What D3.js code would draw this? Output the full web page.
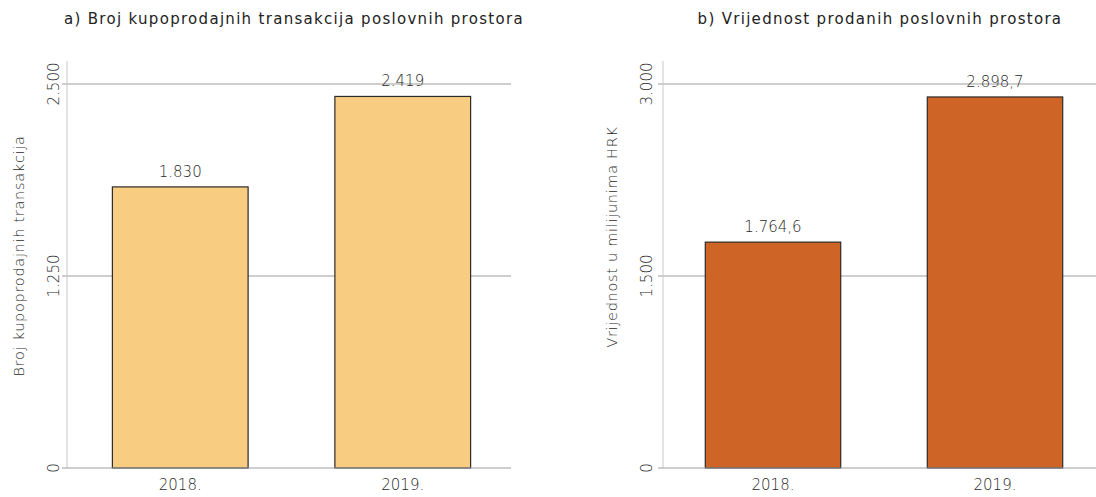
<!DOCTYPE html>
<html>
<head>
<meta charset="utf-8">
<script src="https://cdn.jsdelivr.net/npm/d3@7"></script>
<style>
  html, body { margin: 0; padding: 0; background: #fff; }
  svg { display: block; font-family: "DejaVu Sans", sans-serif; }
</style>
</head>
<body>
<svg id="chart" width="1096" height="497"></svg>
<script>
// Years on the x axis
const years = ["2018.", "2019."];

// Panel a: number of sale transactions of business premises
const transactions = [1830, 2419];
const transactionTicks = [0, 1250, 2500];
const transactionLabels = ["1.830", "2.419"];

// Panel b: value of sold business premises (million HRK)
const valuesHRK = [1764.6, 2898.7];
const valueTicks = [0, 1500, 3000];
const valueLabels = ["1.764,6", "2.898,7"];

const svg = d3.select("#chart");
const fmtTick = v => d3.format(",")(v).replace(/,/g, ".");

const panels = [
  {
    title: "a) Broj kupoprodajnih transakcija poslovnih prostora",
    yTitle: "Broj kupoprodajnih transakcija",
    values: transactions, ticks: transactionTicks, labels: transactionLabels,
    max: 2500, axisX: 67, x0: 69, x1: 514, gridEnd: 511, color: "#F8CD82",
    titleX: 294, yTitleX: 24, yTitleY: 256, tickX: 59
  },
  {
    title: "b) Vrijednost prodanih poslovnih prostora",
    yTitle: "Vrijednost u milijunima HRK",
    values: valuesHRK, ticks: valueTicks, labels: valueLabels,
    max: 3000, axisX: 663, x0: 662, x1: 1106, gridEnd: 1096, color: "#CF6427",
    titleX: 880, yTitleX: 617, yTitleY: 237, tickX: 652
  }
];

const yBottom = 468, yTop = 84;
const lightText = "#2a2a2a";

panels.forEach(p => {
  const g = svg.append("g");
  const x = d3.scaleBand().domain(years).range([p.x0, p.x1]).paddingInner(0.39).paddingOuter(0.195);
  const y = d3.scaleLinear().domain([0, p.max]).range([yBottom, yTop]);

  // title
  g.append("text")
    .attr("x", p.titleX).attr("y", 24)
    .attr("text-anchor", "middle")
    .attr("font-size", 15).attr("font-weight", 400).attr("fill", "#222")
    .attr("letter-spacing", 1.3)
    .text(p.title);

  // gridlines and tick marks
  g.selectAll(".grid").data(p.ticks.filter(t => t > 0)).join("line")
    .attr("x1", p.axisX - 5).attr("x2", p.gridEnd)
    .attr("y1", d => y(d)).attr("y2", d => y(d))
    .attr("stroke", "#9d9d9d").attr("stroke-width", 1);

  // vertical axis line
  g.append("line")
    .attr("x1", p.axisX).attr("x2", p.axisX)
    .attr("y1", 61).attr("y2", yBottom)
    .attr("stroke", "#c8c8c8").attr("stroke-width", 1);

  // tick labels (rotated)
  g.selectAll(".tl").data(p.ticks).join("text")
    .attr("transform", d => `translate(${p.tickX},${y(d)}) rotate(-90)`)
    .attr("text-anchor", "middle")
    .attr("font-size", 15).attr("font-weight", 200).attr("fill", lightText)
    .text(d => fmtTick(d));

  // y axis title
  g.append("text")
    .attr("transform", `translate(${p.yTitleX},${p.yTitleY}) rotate(-90)`)
    .attr("text-anchor", "middle")
    .attr("font-size", 14.5).attr("font-weight", 200).attr("fill", lightText)
    .attr("letter-spacing", 0.7)
    .text(p.yTitle);

  // bars
  g.selectAll(".bar").data(p.values).join("rect")
    .attr("x", (d, i) => x(years[i]))
    .attr("width", x.bandwidth())
    .attr("y", d => y(d))
    .attr("height", d => yBottom - y(d))
    .attr("fill", p.color)
    .attr("stroke", "#2b2b2b").attr("stroke-width", 1.2);

  // baseline
  g.append("line")
    .attr("x1", p.axisX - 5).attr("x2", p.gridEnd)
    .attr("y1", yBottom).attr("y2", yBottom)
    .attr("stroke", "#9d9d9d").attr("stroke-width", 1.2);

  // value labels
  g.selectAll(".vl").data(p.values).join("text")
    .attr("x", (d, i) => x(years[i]) + x.bandwidth() / 2)
    .attr("y", d => y(d) - 10)
    .attr("text-anchor", "middle")
    .attr("font-size", 15).attr("font-weight", 200).attr("fill", lightText)
    .text((d, i) => p.labels[i]);

  // x labels
  g.selectAll(".xl").data(years).join("text")
    .attr("x", d => x(d) + x.bandwidth() / 2)
    .attr("y", 490)
    .attr("text-anchor", "middle")
    .attr("font-size", 15).attr("font-weight", 200).attr("fill", lightText)
    .text(d => d);
});
</script>
</body>
</html>
